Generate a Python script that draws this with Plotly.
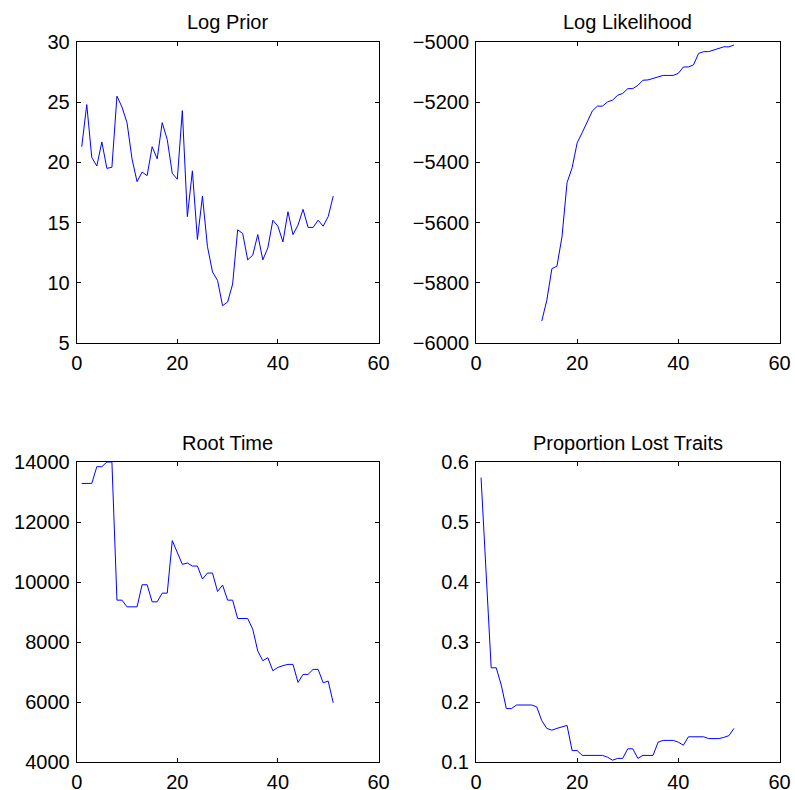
import plotly.graph_objects as go

iterations = list(range(1, 52))

log_prior = [21.3, 24.8, 20.4, 19.7, 21.7, 19.5, 19.6, 25.5, 24.6, 23.3,
             20.3, 18.4, 19.2, 18.9, 21.3, 20.3, 23.3, 21.9, 19.1, 18.6,
             24.3, 15.5, 19.3, 13.6, 17.2, 13.0, 10.9, 10.2, 8.1, 8.4,
             9.9, 14.4, 14.1, 11.9, 12.3, 14.0, 11.9, 12.9, 15.2, 14.7,
             13.4, 15.9, 14.0, 14.8, 16.1, 14.6, 14.6, 15.2, 14.7, 15.5,
             17.2]

log_likelihood = [None] * 12 + [
    -5927, -5858, -5753, -5745, -5647, -5467, -5418, -5335, -5301, -5263,
    -5229, -5213, -5213, -5199, -5193, -5177, -5171, -5155, -5155, -5144,
    -5127, -5126, -5121, -5115, -5111, -5111, -5111, -5104, -5083, -5083,
    -5076, -5038, -5032, -5032, -5027, -5021, -5016, -5016, -5010]

root_time = [13286, 13286, 13286, 13844, 13844, 14000, 14000, 9395, 9395, 9172,
             9172, 9172, 9908, 9908, 9339, 9339, 9629, 9629, 11380, 10990,
             10588, 10633, 10532, 10532, 10098, 10298, 10298, 9685, 9897, 9395,
             9395, 8782, 8782, 8782, 8425, 7700, 7377, 7477, 7042, 7154,
             7210, 7254, 7254, 6652, 6920, 6920, 7087, 7087, 6641, 6697,
             5972]

prop_lost = [0.574, 0.42, 0.257, 0.257, 0.228, 0.189, 0.189, 0.195, 0.195, 0.195,
             0.195, 0.192, 0.169, 0.156, 0.153, 0.156, 0.158, 0.161, 0.119, 0.119,
             0.111, 0.111, 0.111, 0.111, 0.111, 0.108, 0.103, 0.106, 0.106, 0.122,
             0.122, 0.106, 0.111, 0.111, 0.111, 0.133, 0.136, 0.136, 0.136, 0.133,
             0.128, 0.142, 0.142, 0.142, 0.142, 0.139, 0.139, 0.139, 0.141, 0.144,
             0.156]

titles = ["Log Prior", "Log Likelihood", "Root Time", "Proportion Lost Traits"]
series = [log_prior, log_likelihood, root_time, prop_lost]
y_ranges = [[5, 30], [-6000, -5000], [4000, 14000], [0.1, 0.6]]
y_dticks = [5, 200, 2000, 0.1]
y_formats = ["d", "d", "d", ".1f"]
x_ticks = [0, 20, 40, 60]

W, H = 795, 790


def px_x(p):
    return p / W


def px_y(p):
    return 1 - p / H


x_domains = [[px_x(76.7), px_x(378.5)], [px_x(476), px_x(779.5)]]
y_domains_top = [px_y(343), px_y(42)]
y_domains_bot = [px_y(762), px_y(462)]

font = dict(family="Liberation Sans, Arial, Helvetica, sans-serif", size=20, color="black")

fig = go.Figure()
layout = dict(width=W, height=H, autosize=False,
              margin=dict(l=0, r=0, t=0, b=0),
              paper_bgcolor="white", plot_bgcolor="white",
              showlegend=False, font=font)

annotations = []
for i in range(4):
    row, col = divmod(i, 2)
    xd = x_domains[col]
    yd = y_domains_top if row == 0 else y_domains_bot
    sfx = "" if i == 0 else str(i + 1)
    fig.add_trace(go.Scatter(x=iterations, y=series[i], mode="lines",
                             line=dict(color="#0000ff", width=1),
                             connectgaps=False,
                             xaxis="x" + sfx, yaxis="y" + sfx))
    common = dict(showline=True, linecolor="black", linewidth=1, mirror="ticks",
                  ticks="inside", ticklen=4, tickcolor="black", tickwidth=1,
                  showgrid=False, zeroline=False, automargin=False,
                  tickfont=font)
    layout["xaxis" + sfx] = dict(domain=xd, range=[0, 60], tickvals=x_ticks,
                                 anchor="y" + sfx, ticklabelstandoff=2, **common)
    layout["yaxis" + sfx] = dict(domain=yd, range=y_ranges[i], dtick=y_dticks[i],
                                 tick0=y_ranges[i][0], tickformat=y_formats[i],
                                 anchor="x" + sfx, ticklabelstandoff=2, **common)
    annotations.append(dict(text=titles[i], xref="paper", yref="paper",
                            x=(xd[0] + xd[1]) / 2, y=yd[1] + 19.5 / H,
                            xanchor="center", yanchor="middle",
                            showarrow=False, font=font))

layout["annotations"] = annotations
fig.update_layout(**layout)
fig.write_html("out.html",
               config={"displayModeBar": False},
               post_script="document.body.style.margin='0';"
                           "document.body.style.overflow='hidden';")
